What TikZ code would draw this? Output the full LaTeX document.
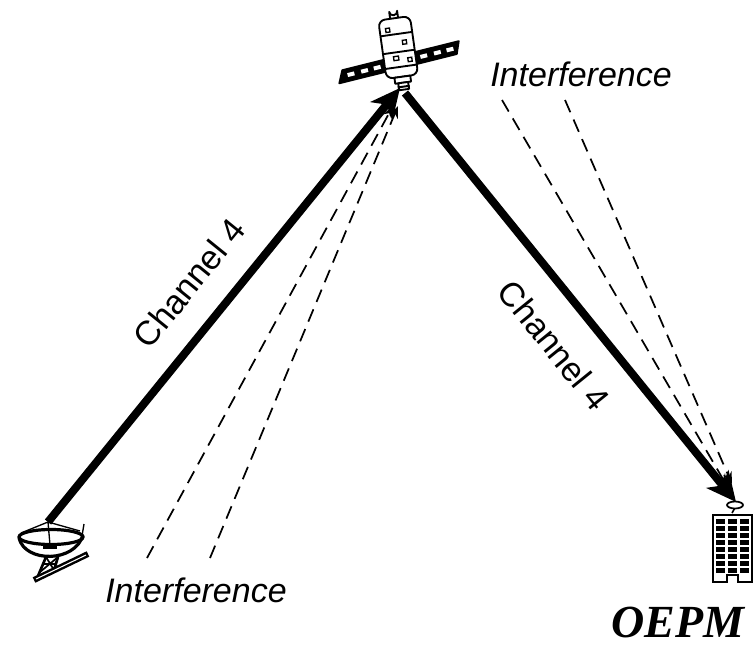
\documentclass[tikz,border=0pt]{standalone}
\usepackage{fontspec}
\setmainfont{Liberation Sans}
\newfontfamily\oepmfont{Liberation Serif}
\usetikzlibrary{arrows.meta}
\begin{document}
\begin{tikzpicture}[x=0.75pt,y=-0.75pt,
  mainarrow/.style={line width=6pt, -{Stealth[length=22pt,width=21pt,inset=6pt]}},
  interf/.style={line width=1.3pt, dash pattern=on 10pt off 6pt, -{Stealth[length=9pt,width=7pt]}},
  lbl/.style={font=\fontsize{25.5}{30}\selectfont, inner sep=0pt},
  ilbl/.style={font=\fontsize{25.5}{30}\selectfont\itshape, inner sep=0pt, anchor=base},
  outl/.style={line width=1.4pt, line join=round}]
\useasboundingbox (0,0) rectangle (755,645);

% ---------- satellite ----------
\begin{scope}[shift={(400,62)}, rotate=14]
  \draw[outl, fill=black] (-58,-6) -- (-15,-6) -- (-15,6) -- (-64,6) -- cycle;
  \draw[outl, fill=black] (15,-6) -- (62,-6) -- (57,6) -- (15,6) -- cycle;
  \foreach \xx in {-54,-40,-27} \fill[white] (\xx,-2) rectangle ++(7,4);
  \foreach \xx in {21,35,48} \fill[white] (\xx,-2) rectangle ++(7,4);
\end{scope}
\begin{scope}[shift={(398,46)}, rotate=8]
  \draw[outl, fill=white] (-4,-28) -- (-4,-35) arc (180:0:4) -- (4,-28);
  \draw[outl, fill=white, rounded corners=5pt] (-16,-28) rectangle (16,31);
  \draw[outl] (-16,-12) -- (16,-12);
  \draw[outl] (-16,6) -- (16,6);
  \draw[outl] (-16,21) -- (16,21);
  \draw[line width=1pt] (-10,-19) rectangle ++(4,4);
  \draw[line width=1pt] (5,-5) rectangle ++(4,4);
  \draw[line width=1pt] (-6,10) rectangle ++(5,4);
  \draw[line width=1pt] (8,13) rectangle ++(4,4);
  \draw[outl, fill=white] (-8,31) rectangle (8,37);
  \draw[outl, fill=white] (-5,37) rectangle (5,44);
  \fill (-6,40) rectangle (6,42);
\end{scope}
\coordinate (sattip) at (400,88);
\coordinate (satbase) at (405,93);

% ---------- earth station antenna ----------
\coordinate (dishtop) at (48,522);
\draw[line width=2.4pt] (51,537) ellipse [x radius=32, y radius=7.5];
\draw[line width=2.4pt] (19,538) .. controls (25,563) and (75,563) .. (83,535);
\draw[line width=1pt] (21,533) -- (dishtop) -- (80,531);
\draw[line width=1pt] (dishtop) -- (50,545);
\draw[line width=1pt] (82,536) -- (84,524);
\fill (43,544) rectangle (57,549);
% stand
\draw[line width=2pt] (46,557) -- (38,576);
\draw[line width=2pt] (58,557) -- (54,570);
\draw[line width=1.3pt] (46,557) -- (54,570) (58,557) -- (40,572) (43,564) -- (56,564);
% base plate
\draw[line width=4.5pt] (34,580) -- (88,554);
\draw[line width=0.8pt, white] (36,579) -- (86,555);

% ---------- building ----------
\draw[line width=1.3pt, fill=white] (713,515) -- (752,515) -- (752,582) -- (738,582) -- (738,575) -- (727,575) -- (727,582) -- (713,582) -- cycle;
\foreach \yy in {0,...,7}{
  \fill (716,519+7*\yy) rectangle ++(9,4.5);
  \fill (728,519+7*\yy) rectangle ++(9,4.5);
  \fill (740,519+7*\yy) rectangle ++(9,4.5);
}
\draw[line width=1.2pt] (732,513) -- (736,506);
\draw[line width=1.3pt, fill=white] (735,505) ellipse [x radius=8, y radius=3.5];
\coordinate (bldtip) at (736,502);

% ---------- interference ----------
\coordinate (ia) at (147,558);
\coordinate (ib) at (210,558);
\coordinate (ic) at (502,100);
\coordinate (id) at (565,100);
\coordinate (iae) at (393,106);
\coordinate (ibe) at (398,106);
\coordinate (ice) at (727,486);
\coordinate (ide) at (732,484);
\draw[interf] (ia) -- (iae);
\draw[interf] (ib) -- (ibe);
\draw[interf] (ic) -- (ice);
\draw[interf] (id) -- (ide);

% ---------- main links ----------
\draw[mainarrow] (dishtop) -- (sattip);
\draw[mainarrow] (satbase) -- (bldtip);

% ---------- labels ----------
\node[lbl, rotate=51] (ch1) at (189,283) {Channel 4};
\node[lbl, rotate=-51] (ch2) at (554,345) {Channel 4};
\node[ilbl] (int1) at (581,87) {Interference};
\node[ilbl] (int2) at (196,602) {Interference};
\node[inner sep=0pt, anchor=base, font=\oepmfont\bfseries\itshape\fontsize{34.5}{40}\selectfont] (oepm) at (678,637) {OEPM};
\end{tikzpicture}
\end{document}
